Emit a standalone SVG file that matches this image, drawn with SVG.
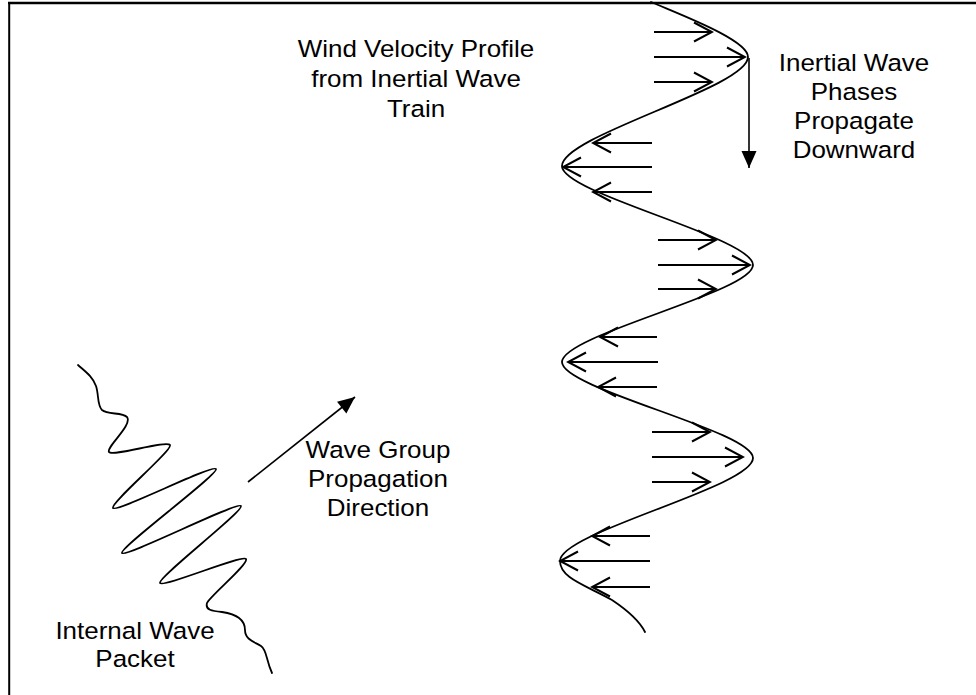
<svg xmlns="http://www.w3.org/2000/svg" width="976" height="695" viewBox="0 0 976 695">
<style>
.lbl{font-family:"Liberation Sans",Arial,sans-serif;font-size:24.5px;fill:#000;text-anchor:middle}
.crv{fill:none;stroke:#000;stroke-width:1.8;stroke-linejoin:round;stroke-linecap:round}
.vel{fill:none;stroke:#000;stroke-width:2}
.dir{fill:none;stroke:#000;stroke-width:1.6}
</style>
<defs>
<marker id="open" viewBox="-21 -12 23 24" refX="0" refY="0" markerWidth="23" markerHeight="24" markerUnits="userSpaceOnUse" orient="auto">
<path d="M-18,-9.5 L0,0 L-18,9.5" fill="none" stroke="#000" stroke-width="2"/>
</marker>
<marker id="solid" viewBox="-18 -8 19 16" refX="0" refY="0" markerWidth="19" markerHeight="16" markerUnits="userSpaceOnUse" orient="auto">
<path d="M-17,-7.5 L0,0 L-17,7.5 Z" fill="#000"/>
</marker>
</defs>
<rect width="976" height="695" fill="#fff"/>
<g id="frame" fill="none" stroke="#000">
<line x1="8" y1="3" x2="976" y2="3" stroke-width="2.6"/>
<line x1="9.2" y1="2" x2="9.2" y2="695" stroke-width="2"/>
</g>
<g id="velocity-profile">
<path class="crv" d="M651,2 C681,15 748,40 748,57 C748,87.5 562,135.5 562,166 C562,193.7 753,237.3 753,265 C753,292.2 562,334.8 562,362 C562,388.9 753,431.1 753,458 C753,486.8 560,532.2 560,561 C560,578 585,585 612,600 C630,612 640,622 645,632"/>
</g>
<g id="wave-packet">
<path class="crv" d="M78,365 C86,372 93,377 96,386 C99,395 97,405 102,410 C108,415 122,412 127,417 C133,425 106,447 109,452 C112,457 167,440 170,445 C173,450 110,503 113,508 C116,513 213,464 216,469 C219,474 119,548 122,553 C125,558 238,501 241,506 C244,511 157,578 160,583 C163,588 243,554 246,559 C249,564 210,596 207,603 C205,610 212,611 222,612 C236,614 245,620 245,630 C245,640 255,642 261,646 C267,650 266,660 272,673"/>
</g>
<g id="connectors">
<line class="vel" x1="654" y1="32" x2="712" y2="32" marker-end="url(#open)"/>
<line class="vel" x1="654" y1="57" x2="745" y2="57" marker-end="url(#open)"/>
<line class="vel" x1="654" y1="82" x2="712" y2="82" marker-end="url(#open)"/>
<line class="vel" x1="652" y1="143" x2="593" y2="143" marker-end="url(#open)"/>
<line class="vel" x1="652" y1="167" x2="563" y2="167" marker-end="url(#open)"/>
<line class="vel" x1="652" y1="192" x2="593" y2="192" marker-end="url(#open)"/>
<line class="vel" x1="658" y1="240" x2="716" y2="240" marker-end="url(#open)"/>
<line class="vel" x1="658" y1="265" x2="750" y2="265" marker-end="url(#open)"/>
<line class="vel" x1="658" y1="289" x2="716" y2="289" marker-end="url(#open)"/>
<line class="vel" x1="657" y1="337" x2="600" y2="337" marker-end="url(#open)"/>
<line class="vel" x1="658" y1="362" x2="568" y2="362" marker-end="url(#open)"/>
<line class="vel" x1="657" y1="387" x2="598" y2="387" marker-end="url(#open)"/>
<line class="vel" x1="652" y1="432" x2="710" y2="432" marker-end="url(#open)"/>
<line class="vel" x1="652" y1="457" x2="743" y2="457" marker-end="url(#open)"/>
<line class="vel" x1="652" y1="482" x2="710" y2="482" marker-end="url(#open)"/>
<line class="vel" x1="650" y1="536" x2="592" y2="536" marker-end="url(#open)"/>
<line class="vel" x1="650" y1="561" x2="560" y2="561" marker-end="url(#open)"/>
<line class="vel" x1="650" y1="587" x2="592" y2="587" marker-end="url(#open)"/>
<line id="phase-arrow" class="dir" x1="749" y1="58" x2="749" y2="168" marker-end="url(#solid)"/>
<line id="group-arrow" class="dir" x1="248" y1="482" x2="355" y2="397" marker-end="url(#solid)"/>
</g>
<g id="label-profile" transform="translate(416,0) scale(1.06,1)">
<text class="lbl" x="0" y="57">Wind Velocity Profile</text>
<text class="lbl" x="0" y="87">from Inertial Wave</text>
<text class="lbl" x="0" y="117">Train</text>
</g>
<g id="label-phases" transform="translate(854,0) scale(1.06,1)">
<text class="lbl" x="0" y="71">Inertial Wave</text>
<text class="lbl" x="0" y="100">Phases</text>
<text class="lbl" x="0" y="129">Propagate</text>
<text class="lbl" x="0" y="158">Downward</text>
</g>
<g id="label-group" transform="translate(378,0) scale(1.06,1)">
<text class="lbl" x="0" y="458">Wave Group</text>
<text class="lbl" x="0" y="487">Propagation</text>
<text class="lbl" x="0" y="516">Direction</text>
</g>
<g id="label-packet" transform="translate(135,0) scale(1.06,1)">
<text class="lbl" x="0" y="639">Internal Wave</text>
<text class="lbl" x="0" y="667">Packet</text>
</g>
</svg>
